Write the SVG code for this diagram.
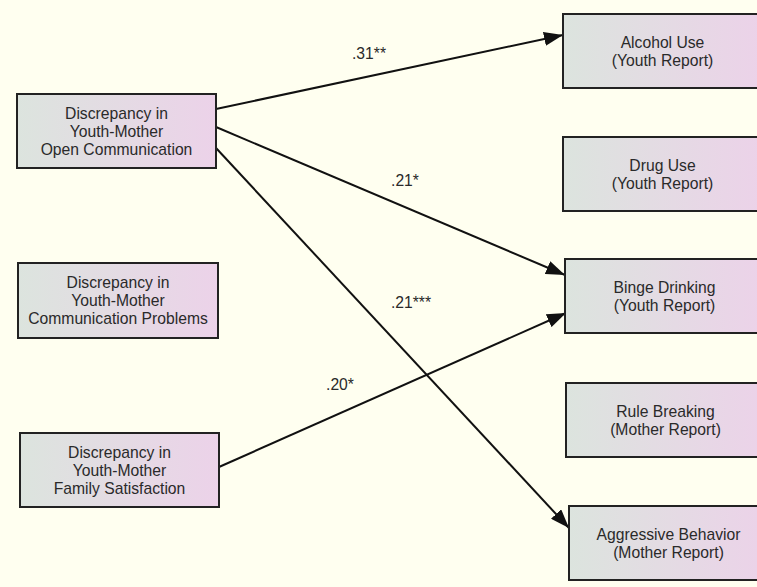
<svg xmlns="http://www.w3.org/2000/svg" width="757" height="587" viewBox="0 0 757 587">
<defs>
<linearGradient id="g" x1="0" y1="0" x2="1" y2="0">
<stop offset="0" stop-color="#DCE4DE"/>
<stop offset="1" stop-color="#ECD2E9"/>
</linearGradient>
<marker id="ah" markerUnits="userSpaceOnUse" markerWidth="20" markerHeight="14" refX="19" refY="7" orient="auto">
<path d="M0,0 L19,7 L0,14 Z" fill="#111"/>
</marker>
<style>
.box{fill:url(#g);stroke:#222;stroke-width:2}
.t{font-family:"Liberation Sans",Arial,sans-serif;font-size:15.7px;fill:#2a2a2a;text-anchor:middle}
.c{stroke:#111;stroke-width:2;fill:none;marker-end:url(#ah)}
</style>
</defs>
<rect width="757" height="587" fill="#FFFFF0"/>
<g id="connectors">
<line class="c" x1="216" y1="109" x2="563" y2="35"/>
<line class="c" x1="216" y1="127" x2="565" y2="275"/>
<line class="c" x1="216" y1="148" x2="569" y2="528"/>
<line class="c" x1="219" y1="467" x2="566" y2="313"/>
<text class="t" x="369" y="59">.31**</text>
<text class="t" x="405" y="186">.21*</text>
<text class="t" x="411" y="308">.21***</text>
<text class="t" x="340" y="390">.20*</text>
</g>
<g id="open-comm">
<rect class="box" x="17" y="94" width="199" height="74"/>
<text class="t" x="116.5" y="119">Discrepancy in</text>
<text class="t" x="116.5" y="137">Youth-Mother</text>
<text class="t" x="116.5" y="155">Open Communication</text>
</g>
<g id="comm-problems">
<rect class="box" x="18" y="263" width="200" height="75"/>
<text class="t" x="118" y="288">Discrepancy in</text>
<text class="t" x="118" y="306">Youth-Mother</text>
<text class="t" x="118" y="324">Communication Problems</text>
</g>
<g id="family-sat">
<rect class="box" x="20" y="433" width="199" height="74"/>
<text class="t" x="119.5" y="458">Discrepancy in</text>
<text class="t" x="119.5" y="476">Youth-Mother</text>
<text class="t" x="119.5" y="494">Family Satisfaction</text>
</g>
<g id="alcohol">
<rect class="box" x="563" y="14" width="199" height="74"/>
<text class="t" x="662.5" y="48">Alcohol Use</text>
<text class="t" x="662.5" y="66">(Youth Report)</text>
</g>
<g id="drug">
<rect class="box" x="563" y="137" width="199" height="74"/>
<text class="t" x="662.5" y="171">Drug Use</text>
<text class="t" x="662.5" y="189">(Youth Report)</text>
</g>
<g id="binge">
<rect class="box" x="565" y="259" width="199" height="74"/>
<text class="t" x="664.5" y="293">Binge Drinking</text>
<text class="t" x="664.5" y="311">(Youth Report)</text>
</g>
<g id="rule">
<rect class="box" x="566" y="383" width="199" height="74"/>
<text class="t" x="665.5" y="417">Rule Breaking</text>
<text class="t" x="665.5" y="435">(Mother Report)</text>
</g>
<g id="aggressive">
<rect class="box" x="569" y="506" width="199" height="74"/>
<text class="t" x="668.5" y="540">Aggressive Behavior</text>
<text class="t" x="668.5" y="558">(Mother Report)</text>
</g>
</svg>
